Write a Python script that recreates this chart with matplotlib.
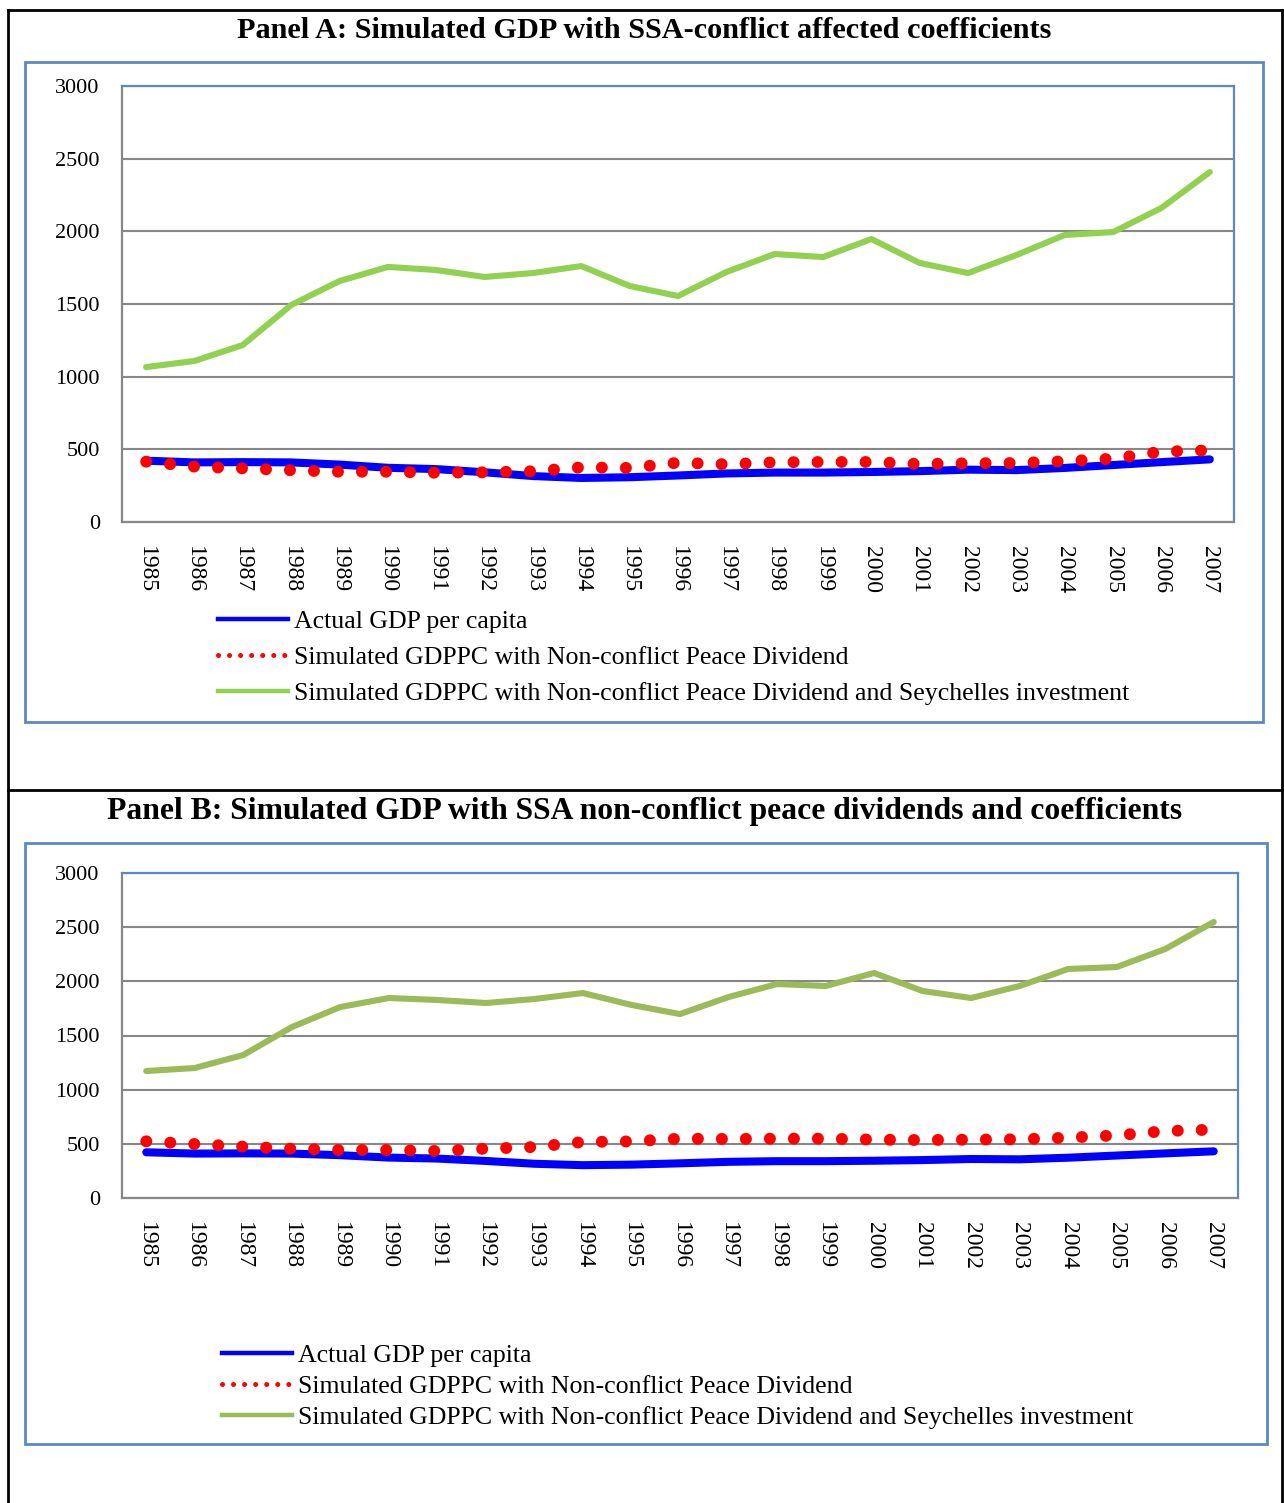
import numpy as np
import matplotlib
matplotlib.use('Agg')
import matplotlib.pyplot as plt
from matplotlib.patches import Rectangle
from matplotlib.lines import Line2D

plt.rcParams['font.family'] = ['Liberation Serif', 'DejaVu Serif']

# values
years = [str(y) for y in range(1985, 2008)]
actual_gdp = [422, 410, 412, 410, 395, 373, 364, 342, 316, 303, 308, 320,
              334, 340, 340, 344, 350, 360, 357, 372, 392, 412, 431]
peace_a = [415, 381, 369, 356, 346, 346, 339, 342, 349, 376, 372, 408,
           397, 411, 413, 413, 399, 404, 406, 418, 436, 484, 493]
seych_a = [1066, 1108, 1218, 1493, 1658, 1755, 1734, 1686, 1713, 1761, 1624, 1555,
           1720, 1844, 1823, 1947, 1782, 1713, 1837, 1975, 1995, 2161, 2408]
peace_b = [523, 498, 474, 455, 443, 443, 434, 455, 471, 517, 523, 548,
           545, 548, 548, 539, 535, 539, 542, 557, 578, 618, 631]
seych_b = [1172, 1200, 1320, 1578, 1763, 1846, 1828, 1800, 1837, 1892, 1782, 1698,
           1855, 1975, 1957, 2077, 1911, 1846, 1957, 2114, 2132, 2298, 2548]

labels = ['Actual GDP per capita',
          'Simulated GDPPC with Non-conflict Peace Dividend',
          'Simulated GDPPC with Non-conflict Peace Dividend and Seychelles investment']
titles = ['Panel A: Simulated GDP with SSA-conflict affected coefficients',
          'Panel B: Simulated GDP with SSA non-conflict peace dividends and coefficients']

W, H = 1284, 1503
fig = plt.figure(figsize=(W/100, H/100), dpi=100)

def fx(px):
    return px / W

def fy(py):
    return 1 - py / H

boxblue = '#5B89C4'
gridgray = '#878787'

# outer table frame
fig.add_artist(Line2D([fx(8), fx(8)], [fy(10), 0], color='k', lw=2, transform=fig.transFigure))
fig.add_artist(Line2D([fx(1282), fx(1282)], [fy(10), 0], color='k', lw=2, transform=fig.transFigure))
fig.add_artist(Line2D([fx(8), fx(1282)], [fy(10), fy(10)], color='k', lw=2, transform=fig.transFigure))
fig.add_artist(Line2D([fx(8), fx(1282)], [fy(790), fy(790)], color='k', lw=2, transform=fig.transFigure))

panels = [
    dict(title=titles[0], tsize=21.8, ty=30, box=(25, 62, 1263, 722), ax=(122, 86, 1234, 522),
         peace=peace_a, seych=seych_a, green='#92D050', leg=(218, 610), lsp=0.5),
    dict(title=titles[1], tsize=22.8, ty=811, box=(25, 843, 1267, 1444), ax=(122, 873, 1238, 1198),
         peace=peace_b, seych=seych_b, green='#9BBB59', leg=(222, 1344), lsp=0.31),
]

x = np.arange(len(years))
for p in panels:
    fig.text(0.502, fy(p['ty']), p['title'], ha='center', va='center',
             fontsize=p['tsize'], fontweight='bold')
    x0, y0, x1, y1 = p['box']
    fig.add_artist(Rectangle((fx(x0), fy(y1)), fx(x1) - fx(x0), fy(y0) - fy(y1),
                             fill=False, ec=boxblue, lw=2, transform=fig.transFigure))
    a0, b0, a1, b1 = p['ax']
    ax = fig.add_axes([fx(a0), fy(b1), fx(a1) - fx(a0), fy(b0) - fy(b1)])

    ax.plot(x, actual_gdp, color='#0000FF', lw=5.8, solid_capstyle='round', zorder=3)
    ax.plot(x, p['peace'], color='#FF0000', lw=8.6, linestyle=(0, (0.01, 2.0)),
            dash_capstyle='round', zorder=4)
    ax.plot(x, p['seych'], color=p['green'], lw=4.4, solid_capstyle='round', zorder=5)

    ax.set_xlim(-0.5, len(years) - 0.5)
    ax.set_ylim(0, 3000)
    ax.set_yticks(range(0, 3001, 500))
    ax.set_xticks(x)
    ax.set_xticklabels(years, rotation=270)
    ax.tick_params(axis='both', length=0)
    ax.tick_params(axis='y', pad=16, labelsize=16)
    ax.tick_params(axis='x', pad=17, labelsize=17)
    ax.grid(axis='y', color=gridgray, lw=1.5)
    ax.set_axisbelow(True)
    for s in ['left', 'bottom']:
        ax.spines[s].set_color(gridgray)
        ax.spines[s].set_linewidth(1.6)
    for s in ['top', 'right']:
        ax.spines[s].set_color(boxblue)
        ax.spines[s].set_linewidth(1.6)

    handles = [Line2D([], [], color='#0000FF', lw=3.2),
               Line2D([], [], color='#FF0000', lw=3.6, linestyle=(0, (0.01, 2.2)),
                      dash_capstyle='round'),
               Line2D([], [], color=p['green'], lw=3.2)]
    lx, ly = p['leg']
    ax.legend(handles, labels, loc='upper left', bbox_to_anchor=(fx(lx), fy(ly)),
              bbox_transform=fig.transFigure, frameon=False, fontsize=18.6,
              handlelength=2.7, handletextpad=0.25, borderpad=0, borderaxespad=0,
              labelspacing=p['lsp'])

fig.savefig('out.png', dpi=100)
